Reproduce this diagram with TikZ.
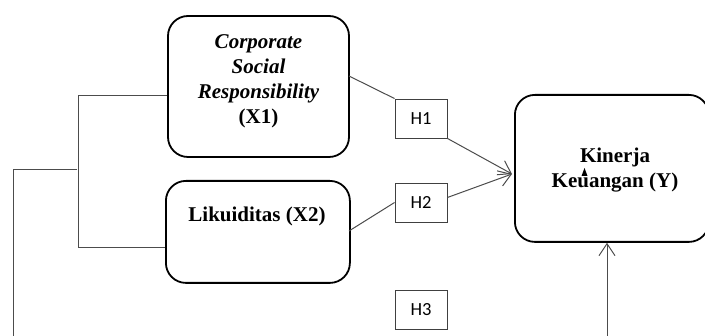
\documentclass[tikz,border=0pt]{standalone}
\usepackage{fontspec}
\setmainfont{Liberation Serif}
\newfontfamily\hfont{Carlito}
\usetikzlibrary{arrows.meta}
\begin{document}
\begin{tikzpicture}[x=1pt,y=-1pt,
  varbox/.style={draw=black, line width=1.8pt, rounded corners=20pt, align=center,
    font=\fontsize{21}{25}\selectfont\bfseries, inner sep=0pt},
  vartext/.style={font=\fontsize{21}{25}\selectfont\bfseries, align=center},
  hbox/.style={draw=black!75, line width=0.9pt, minimum width=52pt, minimum height=39pt,
    font=\hfont\fontsize{18.5}{20}\selectfont, inner sep=0pt},
  conn/.style={draw=black!70, line width=1pt},
  arr/.style={conn, -{Straight Barb[length=12pt,width=16pt,line width=1pt]}}
]
\useasboundingbox (0,0) rectangle (705,336);
\clip (0,0) rectangle (705,336);
% boxes
\node[varbox, minimum width=181pt, minimum height=141pt] (x1) at (258.5,86.5) {};
\node[vartext] (x1t) at (258.5,81.5)
  {\itshape Corporate\\\itshape Social\\\itshape Responsibility\\(X1)};
\node[varbox, minimum width=184pt, minimum height=102pt, anchor=north west] (x2) at (165,180) {};
\node[vartext] (x2t) at (257,216) {Likuiditas (X2)};
\node[varbox, minimum width=194pt, minimum height=147pt, anchor=north west] (y) at (514,94) {};
\node[vartext] (yt) at (615,170) {Kinerja\\Keuangan (Y)};
\node[hbox] (h1) at (421,118.5) {H1};
\node[hbox] (h2) at (421,202.5) {H2};
\node[hbox] (h3) at (421,310) {H3};
% left bracket
\coordinate (a1) at (78,96);
\coordinate (a2) at (77,248);
\coordinate (a3) at (77,170);
\coordinate (a4) at (13,170);
\coordinate (a5) at (13,340);
\draw[conn] (x1.west |- a1) -- (a1) -- (a1 |- a2) -- (x2.west |- a2);
\draw[conn] (a3) -- (a4) -- (a5);
% hypotheses
\coordinate (tip) at (512,174);
\draw[conn] (349,76) -- (h1.north west);
\draw[arr] (h1.south east) -- (tip);
\draw[conn] (349,231) -- (h2.west);
\draw[arr] (h2.east) ++(0,-5) -- (tip);
\coordinate (b1) at (607,340);
\draw[arr] (b1) -- (y.south -| b1);
% stray mark
\fill (584.5,168) -- (581.5,176) -- (587.5,176) -- cycle;
\end{tikzpicture}
\end{document}
